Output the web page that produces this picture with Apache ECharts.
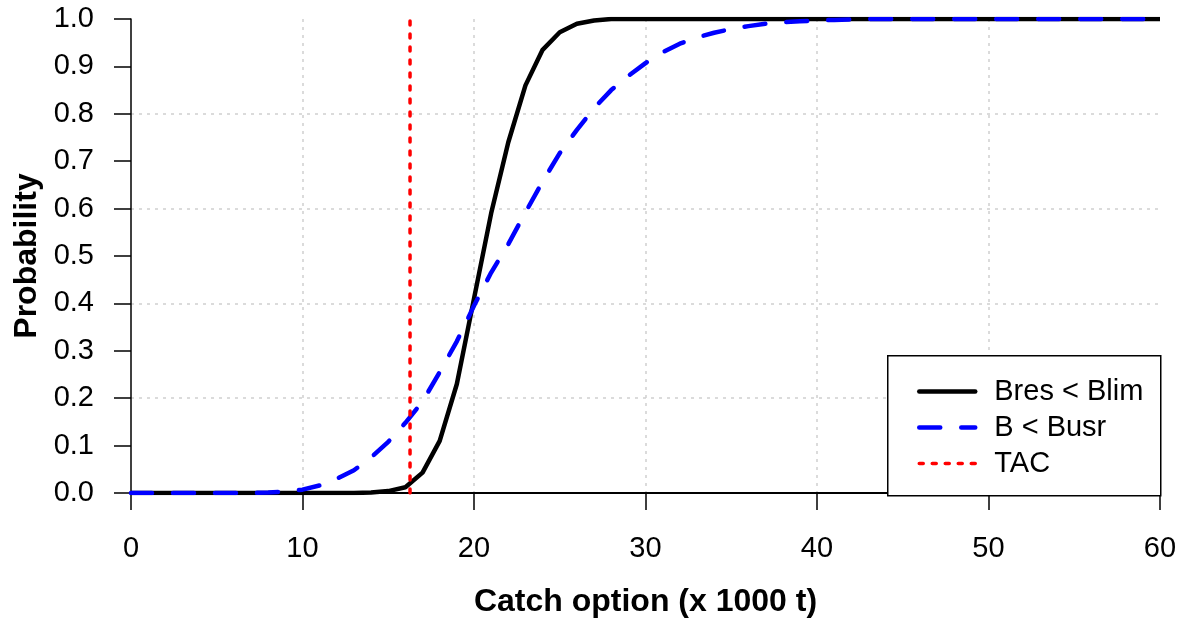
<!DOCTYPE html>
<html>
<head>
<meta charset="utf-8">
<script src="https://cdn.jsdelivr.net/npm/echarts@6/dist/echarts.min.js"></script>
<style>html,body{margin:0;padding:0;background:#fff;}#c{width:1184px;height:623px;}</style>
</head>
<body>
<div id="c"></div>
<script>
const catchOption = [0,1,2,3,4,5,6,7,8,9,10,11,12,13,14,15,16,17,18,19,20,21,22,23,24,25,26,27,28,29,30,31,32,33,34,35,36,37,38,39,40,41,42,43,44,45,46,47,48,49,50,51,52,53,54,55,56,57,58,59,60];
const bresBlim = [0,0,0,0,0,0,0,0,0,0,0,0,0,0,0.001,0.004,0.012,0.043,0.11,0.23,0.41,0.59,0.74,0.86,0.935,0.972,0.99,0.997,1,1,1,1,1,1,1,1,1,1,1,1,1,1,1,1,1,1,1,1,1,1,1,1,1,1,1,1,1,1,1,1,1];
const bBusr = [0,0,0,0,0,0,0,0,0.001,0.003,0.007,0.016,0.03,0.048,0.075,0.108,0.148,0.193,0.255,0.32,0.395,0.465,0.525,0.592,0.657,0.717,0.766,0.812,0.85,0.88,0.907,0.93,0.948,0.961,0.971,0.979,0.985,0.99,0.993,0.995,0.997,0.998,0.999,1,1,1,1,1,1,1,1,1,1,1,1,1,1,1,1,1,1];
const tacValue = 16.27;
const tacY = [0, 1];
const xTicks = [0, 10, 20, 30, 40, 50, 60];
const seriesNames = ['Bres < Blim', 'B < Busr', 'TAC'];

const FONT = '"Liberation Sans", Arial, sans-serif';
const chart = echarts.init(document.getElementById('c'), null, {renderer: 'canvas'});
const pairs = (xs, ys) => xs.map((x, i) => [x, ys[i]]);

const styles = [
  {color: '#000', width: 4.5, type: 'solid'},
  {color: '#0000ff', width: 4.5, type: [21, 21]},
  {color: '#ff0000', width: 3.5, type: [4, 9]}
];

chart.setOption({
  backgroundColor: '#fff',
  animation: false,
  grid: {left: 131, right: 24, top: 19, bottom: 128, containLabel: false},
  xAxis: [{
    type: 'value', min: 0, max: 60, interval: 10,
    name: 'Catch option (x 1000 t)', nameLocation: 'middle', nameGap: 93,
    nameTextStyle: {fontFamily: FONT, fontSize: 32, fontWeight: 'bold', color: '#000'},
    axisLine: {show: true, onZero: false, lineStyle: {color: '#000', width: 1.5}},
    axisTick: {show: true, length: 17, lineStyle: {color: '#000', width: 1.5}},
    axisLabel: {fontFamily: FONT, fontSize: 29, color: '#000', margin: 41,
      formatter: v => xTicks.includes(v) ? String(v) : ''},
    splitLine: {show: true, showMinLine: false, showMaxLine: false, lineStyle: {color: '#cfcfcf', width: 1.5, type: [3, 5]}}
  }, {
    type: 'value', min: 0, max: 60, position: 'top',
    axisLine: {show: true, lineStyle: {color: '#000', width: 2}},
    axisTick: {show: false}, axisLabel: {show: false}, splitLine: {show: false}
  }],
  yAxis: [{
    type: 'value', min: 0, max: 1, interval: 0.1,
    name: 'Probability', nameLocation: 'middle', nameGap: 88, nameRotate: 90,
    nameTextStyle: {fontFamily: FONT, fontSize: 32, fontWeight: 'bold', color: '#000'},
    axisLine: {show: true, lineStyle: {color: '#000', width: 1.5}},
    axisTick: {show: true, length: 17, lineStyle: {color: '#000', width: 1.5}},
    axisLabel: {fontFamily: FONT, fontSize: 29, color: '#000', margin: 37, formatter: v => v.toFixed(1)},
    splitLine: {show: false}
  }, {
    type: 'value', min: 0, max: 1, interval: 0.2, position: 'left',
    axisLine: {show: false}, axisTick: {show: false}, axisLabel: {show: false},
    splitLine: {show: true, showMinLine: false, showMaxLine: false, lineStyle: {color: '#cfcfcf', width: 1.5, type: [3, 5]}}
  }],
  legend: {
    left: 912, top: 371, orient: 'vertical', itemWidth: 56, itemHeight: 20, itemGap: 5, z: 100,
    itemStyle: {opacity: 0},
    data: seriesNames.map((n, i) => ({name: n, lineStyle: {width: styles[i].width, type: styles[i].type, cap: 'round', color: styles[i].color}})),
    textStyle: {fontFamily: FONT, fontSize: 29, color: '#000', lineHeight: 31, padding: [0, 0, 0, 14]}
  },
  graphic: [{
    type: 'rect', left: 887, top: 355, z: 10,
    shape: {width: 273, height: 140},
    style: {fill: '#fff', stroke: '#000', lineWidth: 1.5}
  }],
  series: [{
    name: seriesNames[0], type: 'line', symbol: 'none', z: 3,
    data: pairs(catchOption, bresBlim),
    lineStyle: {color: styles[0].color, width: styles[0].width},
    itemStyle: {color: styles[0].color}
  }, {
    name: seriesNames[1], type: 'line', symbol: 'none', z: 4,
    data: pairs(catchOption, bBusr),
    lineStyle: {color: styles[1].color, width: styles[1].width, type: styles[1].type, cap: 'round'},
    itemStyle: {color: styles[1].color}
  }, {
    name: seriesNames[2], type: 'line', symbol: 'none', z: 5,
    data: tacY.map(y => [tacValue, y]),
    lineStyle: {color: styles[2].color, width: styles[2].width, type: styles[2].type, cap: 'round'},
    itemStyle: {color: styles[2].color}
  }]
});
</script>
</body>
</html>
